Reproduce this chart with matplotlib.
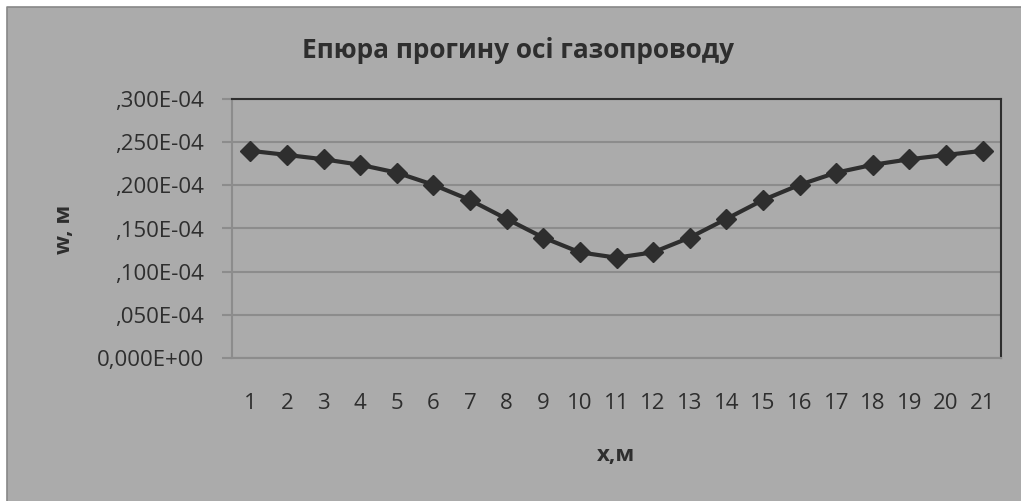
import matplotlib
matplotlib.use("Agg")
import matplotlib.pyplot as plt
from matplotlib.patches import Rectangle
from matplotlib.lines import Line2D
from matplotlib.ticker import FuncFormatter, MultipleLocator

# deflection of the pipeline axis, m
x_pos = list(range(1, 22))
w_defl = [2.400e-5, 2.352e-5, 2.302e-5, 2.238e-5, 2.147e-5, 2.006e-5, 1.830e-5,
          1.611e-5, 1.395e-5, 1.224e-5, 1.162e-5, 1.224e-5, 1.395e-5, 1.611e-5,
          1.830e-5, 2.006e-5, 2.147e-5, 2.238e-5, 2.302e-5, 2.352e-5, 2.400e-5]

title = "Епюра прогину осі газопроводу"
xlabel = "x,м"
ylabel = "w, м"

bg = "#ababab"
grid_c = "#8c8c8c"
dark = "#2e2e2e"

plt.rcParams["font.family"] = ["Open Sans", "DejaVu Sans"]

W, H = 1021, 501
fig = plt.figure(figsize=(W / 100, H / 100), dpi=100, facecolor="white")

# chart area: grey fill, outline only on the left and top edges
x0, y1 = 6.5 / W, 1 - 6.5 / H
fig.patches.append(Rectangle((x0, 0), 1 - x0, y1, transform=fig.transFigure,
                             facecolor=bg, edgecolor="none", zorder=-5))
fig.lines.append(Line2D([x0, x0, 1], [0, y1, y1], transform=fig.transFigure,
                        color="#888888", linewidth=1.2, zorder=-4))

ax = fig.add_axes([232 / W, (H - 358) / H, 769 / W, 259 / H])
ax.set_zorder(2)
ax.set_facecolor(bg)


def excel_sci(v, pos):
    if abs(v) < 1e-12:
        return "0,000E+00"
    s = f"{v / 1e-4:.3f}".lstrip("0").replace(".", ",")
    return s + "E-04"


ax.plot(x_pos, w_defl, color=dark, linewidth=3, marker="D", markersize=10,
        markerfacecolor=dark, markeredgecolor=dark, zorder=3, clip_on=False)

ax.set_xlim(0.5, 21.5)
ax.set_ylim(0, 3e-5)
ax.set_xticks(x_pos)
ax.yaxis.set_major_locator(MultipleLocator(0.5e-5))
ax.yaxis.set_major_formatter(FuncFormatter(excel_sci))
ax.yaxis.grid(True, color=grid_c, linewidth=1.5)
ax.set_axisbelow(True)

for side in ("top", "right"):
    ax.spines[side].set_color(dark)
    ax.spines[side].set_linewidth(1.5)
for side in ("left", "bottom"):
    ax.spines[side].set_color(grid_c)
    ax.spines[side].set_linewidth(1.5)

ax.tick_params(axis="y", length=7, width=1.5, color=grid_c, pad=13,
               labelsize=16, labelcolor=dark)
ax.tick_params(axis="x", length=0, pad=25, labelsize=16, labelcolor=dark)

fig.text(518 / W, 1 - 50 / H, title, ha="center", va="center",
         fontsize=18.9, fontweight="bold", color=dark)
fig.text(616 / W, 1 - 455 / H, xlabel, ha="center", va="center",
         fontsize=16, fontweight="bold", color=dark)
fig.text(64 / W, 1 - 229 / H, ylabel, ha="center", va="center", rotation=90,
         fontsize=16, fontweight="bold", color=dark)

fig.savefig("out.png", dpi=100, facecolor="white")
